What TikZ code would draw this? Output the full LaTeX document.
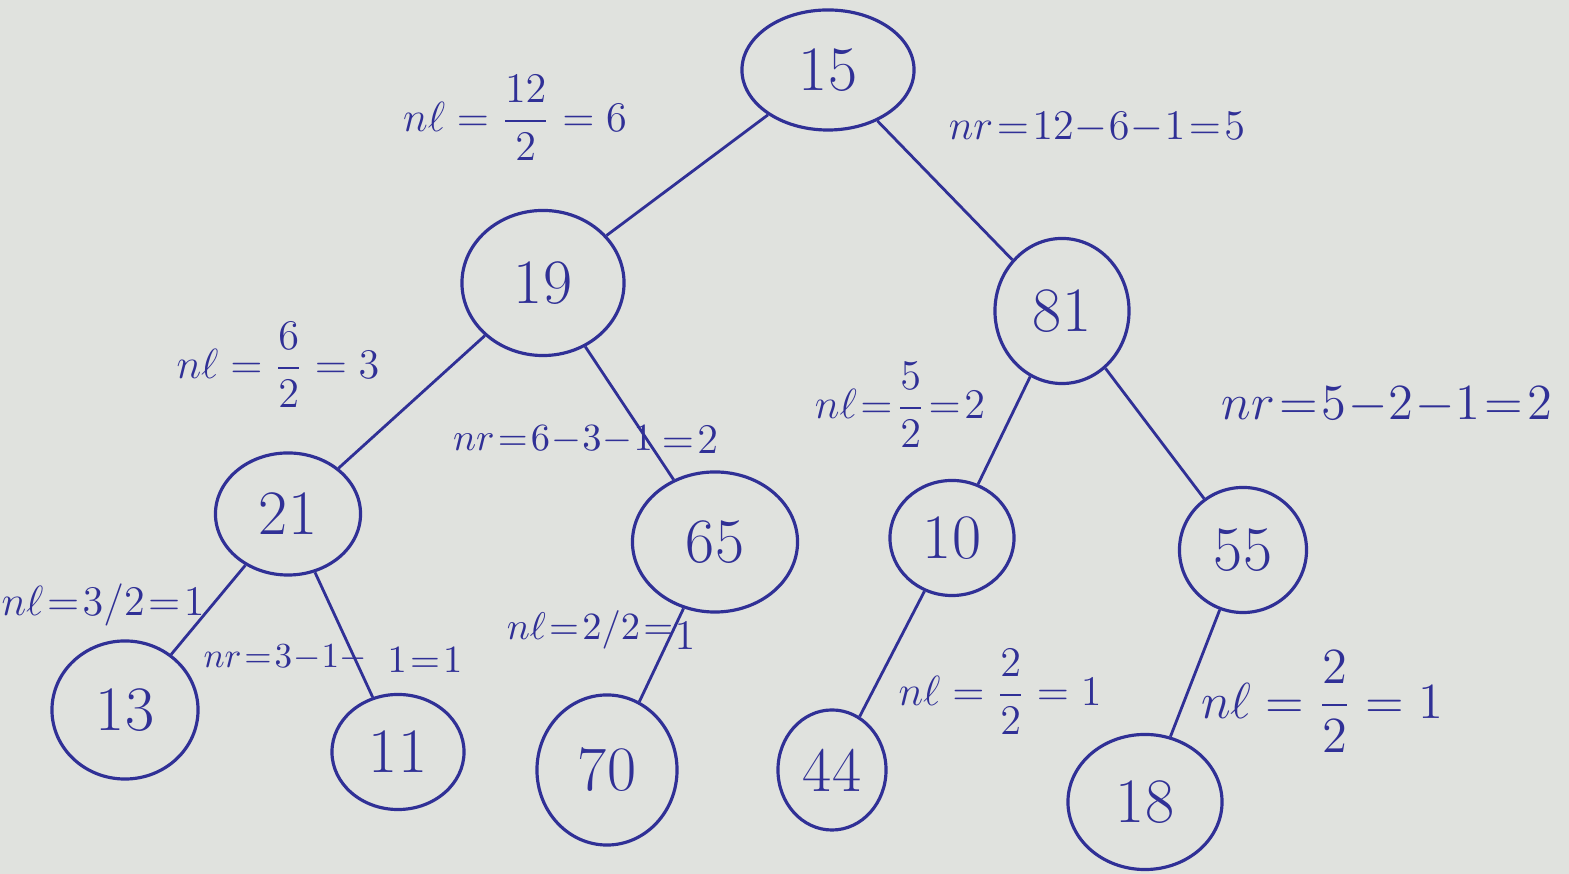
\documentclass[tikz,border=0pt]{standalone}
\usepackage{amsmath}
\usetikzlibrary{shapes.geometric}
\definecolor{ink}{RGB}{48,48,150}
\definecolor{paper}{RGB}{224,226,222}
% narrower spacing round = and - in the size notes
\newcommand{\narrowops}{\thickmuskip=1.5mu\relax\medmuskip=0.5mu\relax}
\begin{document}
\begin{tikzpicture}[x=0.01cm,y=-0.01cm,
  key/.style={draw=ink, line width=0.9pt, ellipse, inner sep=0pt, text=ink,
    font=\fontsize{18}{20}\selectfont},
  edge/.style={draw=ink, line width=0.8pt},
  calc/.style={text=ink, font=\fontsize{13}{15}\selectfont, inner sep=0pt},
  tight/.style={calc, font=\fontsize{13}{15}\selectfont\narrowops},
  small/.style={calc, font=\fontsize{10.5}{12}\selectfont\narrowops}]
\fill[paper] (0,0) rectangle (1569,874);
\useasboundingbox (0,0) rectangle (1569,874);

% keys of the tree
\node[key, minimum width=1.72cm, minimum height=1.2cm]  (n15) at (828,70)   {15};
\node[key, minimum width=1.62cm, minimum height=1.45cm] (n19) at (543,283)  {19};
\node[key, minimum width=1.34cm, minimum height=1.45cm] (n81) at (1062,311) {81};
\node[key, minimum width=1.45cm, minimum height=1.22cm] (n21) at (288,514)  {21};
\node[key, minimum width=1.65cm, minimum height=1.4cm]  (n65) at (715,542)  {65};
\node[key, minimum width=1.24cm, minimum height=1.15cm] (n10) at (952,538)  {10};
\node[key, minimum width=1.27cm, minimum height=1.25cm] (n55) at (1243,550) {55};
\node[key, minimum width=1.46cm, minimum height=1.38cm] (n13) at (125,710)  {13};
\node[key, minimum width=1.32cm, minimum height=1.15cm] (n11) at (398,752)  {11};
\node[key, minimum width=1.4cm,  minimum height=1.5cm]  (n70) at (607,770)  {70};
\node[key, minimum width=1.08cm, minimum height=1.2cm]  (n44) at (832,770)  {44};
\node[key, minimum width=1.54cm, minimum height=1.35cm] (n18) at (1145,802) {18};

% parent-child links
\draw[edge] (n15) -- (n19);
\draw[edge] (n15) -- (n81);
\draw[edge] (n19) -- (n21);
\draw[edge] (n19) -- (n65);
\draw[edge] (n81) -- (n10);
\draw[edge] (n81) -- (n55);
\draw[edge] (n21) -- (n13);
\draw[edge] (n21) -- (n11);
\draw[edge] (n65) -- (n70);
\draw[edge] (n10) -- (n44);
\draw[edge] (n55) -- (n18);

% subtree sizes
\node[calc]  (c1)  at (515,118)  {$n\ell = \dfrac{12}{2} = 6$};
\node[tight] (c2)  at (1097,128) {$nr = 12-6-1 = 5$};
\node[calc]  (c3)  at (278,365)  {$n\ell = \dfrac{6}{2} = 3$};
\node[small] (c4)  at (553,440)  {$nr = 6-3-1$};
\node[tight] (c4b) at (690,440)  {$= 2$};
\node[tight] (c5)  at (900,405)  {$n\ell = \dfrac{5}{2} = 2$};
\node[calc, font=\fontsize{14}{16}\selectfont\narrowops] (c6) at (1387,405) {$nr = 5-2-1 = 2$};
\node[calc, font=\fontsize{12}{14}\selectfont\narrowops] (c7) at (103,605) {$n\ell = 3/2 = 1$};
\node[calc, font=\fontsize{10}{12}\selectfont\narrowops] (c8) at (285,658) {$nr = 3-1-$};
\node[calc, font=\fontsize{11}{13}\selectfont\narrowops] (c8b) at (425,660) {$1 = 1$};
\node[calc, font=\fontsize{11}{13}\selectfont\narrowops] (c9) at (590,630) {$n\ell = 2/2 =$};
\node[tight] (c9b) at (685,636)  {$1$};
\node[calc]  (c10) at (1000,692) {$n\ell = \dfrac{2}{2} = 1$};
\node[calc, font=\fontsize{14.5}{16}\selectfont] (c11) at (1322,702) {$n\ell = \dfrac{2}{2} = 1$};
\end{tikzpicture}
\end{document}
